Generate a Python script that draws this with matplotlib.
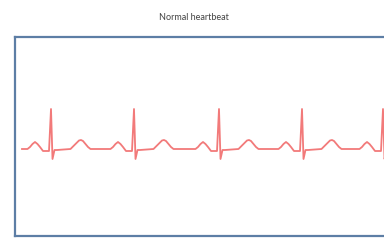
import numpy as np
import matplotlib
matplotlib.use('Agg')
from matplotlib import pyplot as plt

# times in ms, amplitudes in arbitrary units (1 unit ~ 1 px of the original)
r_peaks = [510, 1340, 2190, 3020, 3830]
trace_start = 220

# one beat, offsets from the R peak (ms) and amplitude
beat_offsets = [-235, -210, -185, -160, -135, -110, -95, -80, -55, -20,
                0, 15, 35, 60, 195, 225, 255, 280, 300, 320, 345, 370, 395]
beat_values = [0, 2, 5, 7, 5, 2, 0, -2, -2, -2,
               40, -10, -1, -1, 0, 3, 6, 8.5, 9, 8, 5, 2, 0]

t = [trace_start]
v = [0]
for r in r_peaks:
    for off, val in zip(beat_offsets, beat_values):
        t.append(r + off)
        v.append(val)
t = np.array(t)
v = np.array(v)

fig = plt.figure(figsize=(3.84, 2.42), dpi=100)
fig.patch.set_facecolor('white')

# axes runs past the right side of the figure, like in the cropped screenshot
ax = fig.add_axes([15 / 384, 1 - 236 / 242, 380 / 384, 199 / 242])
ax.plot(t, v, color='#f27a7a', lw=1.3, solid_joinstyle='round')
ax.set_xlim(150, 3950)
ax.set_ylim(-87, 112)
ax.set_xticks([])
ax.set_yticks([])
for spine in ax.spines.values():
    spine.set_color('#5d7ea5')
    spine.set_linewidth(1.6)

fig.text(0.505, 1 - 18 / 242, 'Normal heartbeat', ha='center', va='center',
         fontsize=6.5, color='#444444', family='Lato')

fig.savefig('out.png', dpi=100, facecolor='white')
